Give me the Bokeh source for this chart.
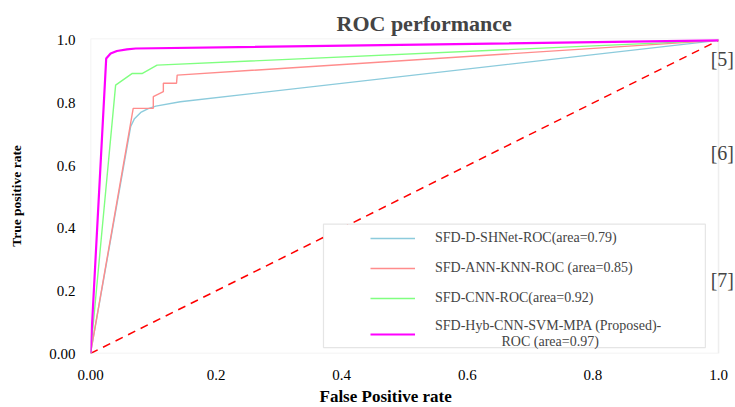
from bokeh.plotting import figure
from bokeh.models import (Legend, LegendItem, BoxAnnotation, Label, Range1d, FixedTicker,
                          CustomJSTickFormatter, Title)
from bokeh.embed import file_html
from bokeh.resources import INLINE

# ---- data ----
fpr_shnet = [0.0, 0.064, 0.070, 0.080, 0.092, 0.104, 0.143, 1.0]
tpr_shnet = [0.0, 0.725, 0.750, 0.770, 0.782, 0.790, 0.804, 1.0]

fpr_ann = [0.0, 0.068, 0.100, 0.100, 0.116, 0.116, 0.137, 0.138, 1.0]
tpr_ann = [0.0, 0.783, 0.783, 0.820, 0.836, 0.863, 0.863, 0.889, 1.0]

fpr_cnn = [0.0, 0.040, 0.066, 0.082, 0.106, 1.0]
tpr_cnn = [0.0, 0.857, 0.894, 0.894, 0.921, 1.0]

fpr_hyb = [0.0, 0.025, 0.032, 0.042, 0.058, 0.072, 1.0]
tpr_hyb = [0.0, 0.942, 0.958, 0.966, 0.971, 0.974, 1.0]

chance_x = [0.0, 1.0]
chance_y = [0.0, 1.0]

NB = "\u00a0"
series_labels = [
    "SFD-D-SHNet-ROC(area=0.79)",
    "SFD-ANN-KNN-ROC (area=0.85)",
    "SFD-CNN-ROC(area=0.92)",
    "SFD-Hyb-CNN-SVM-MPA (Proposed)-\n" + NB * 19 + "ROC (area=0.97)",
]
tick_values = [0.0, 0.2, 0.4, 0.6, 0.8, 1.0]
tick_labels = ["0.00", "0.2", "0.4", "0.6", "0.8", "1.0"]
ref_marks = ["[5]", "[6]", "[7]"]
ref_marks_y = [0.94, 0.641, 0.235]

SERIF = "Liberation Serif"

p = figure(width=735, height=407,
           x_range=Range1d(0, 1.027), y_range=Range1d(0, 1.006),
           output_backend="svg", toolbar_location=None,
           min_border_left=90, min_border_right=0,
           min_border_top=38, min_border_bottom=52)

p.background_fill_color = "white"
p.border_fill_color = "white"
p.outline_line_color = None
p.grid.visible = False

p.title.text = "ROC performance"
p.title.align = "left"
p.title.offset = 246
p.title.text_font = SERIF
p.title.text_font_size = "22px"
p.title.text_font_style = "bold"
p.title.standoff = 5

fmt = CustomJSTickFormatter(args=dict(vals=tick_values, labs=tick_labels), code="""
    for (let i = 0; i < vals.length; i++) {
        if (Math.abs(vals[i] - tick) < 1e-9) { return labs[i]; }
    }
    return tick.toFixed(1);
""")

for ax in (p.xaxis[0], p.yaxis[0]):
    ax.ticker = FixedTicker(ticks=tick_values)
    ax.formatter = fmt
    ax.axis_line_color = None
    ax.major_tick_line_color = None
    ax.minor_tick_line_color = None
    ax.major_label_text_font = SERIF
    ax.major_label_text_font_size = "15px"
    ax.major_label_text_color = "black"

p.xaxis.major_label_standoff = 10

p.yaxis.major_label_standoff = 9
p.yaxis.bounds = (-0.08, 1.006)
p.yaxis.axis_label = "True positive rate"
p.yaxis.axis_label_text_font = SERIF
p.yaxis.axis_label_text_font_style = "bold"
p.yaxis.axis_label_text_font_size = "13.5px"
p.yaxis.axis_label_text_color = "black"
p.yaxis.axis_label_standoff = 22

xtitle = Title(text="False Positive rate", align="left", offset=229,
               text_font=SERIF, text_font_size="17px", text_font_style="bold",
               text_color="black", standoff=4)
p.add_layout(xtitle, "below")

# plot frame (x 0..1)
frame = BoxAnnotation(left=0.0, right=1.0, bottom=0.0, top=1.006,
                      fill_alpha=0, line_color="#c8c8c8", line_width=1.5)
p.add_layout(frame)

# chance line
p.line(chance_x, chance_y, line_color="#ff0000", line_width=1.5, line_dash="8 6")

r1 = p.line(fpr_shnet, tpr_shnet, line_color="#8ccbdc", line_width=1.4)
r2 = p.line(fpr_ann, tpr_ann, line_color="#ff8c8c", line_width=1.4)
r3 = p.line(fpr_cnn, tpr_cnn, line_color="#80ff80", line_width=1.4)
r4 = p.line(fpr_hyb, tpr_hyb, line_color="#ff00ff", line_width=2.2)

# legend frame
box = BoxAnnotation(left=0.371, right=0.979, bottom=0.019, top=0.413,
                    fill_color="white", fill_alpha=1.0,
                    line_color="#a8a8a8", line_width=1.2)
p.add_layout(box)

legend = Legend(
    items=[LegendItem(label=lab, renderers=[r]) for lab, r in zip(series_labels, [r1, r2, r3, r4])],
    location=(280, 3), padding=0, margin=0,
    border_line_alpha=0, background_fill_alpha=0,
    glyph_width=45, glyph_height=20, label_standoff=20, spacing=10,
    label_height=20,
    label_text_font=SERIF, label_text_font_size="14px",
)
p.add_layout(legend)

# reference markers from the source page
for mark, yy in zip(ref_marks, ref_marks_y):
    p.add_layout(Label(x=1.006, y=yy, text=mark, text_font=SERIF, text_font_size="20px",
                       text_align="center", text_baseline="middle"))

open("out.html", "w").write(file_html(p, INLINE))
